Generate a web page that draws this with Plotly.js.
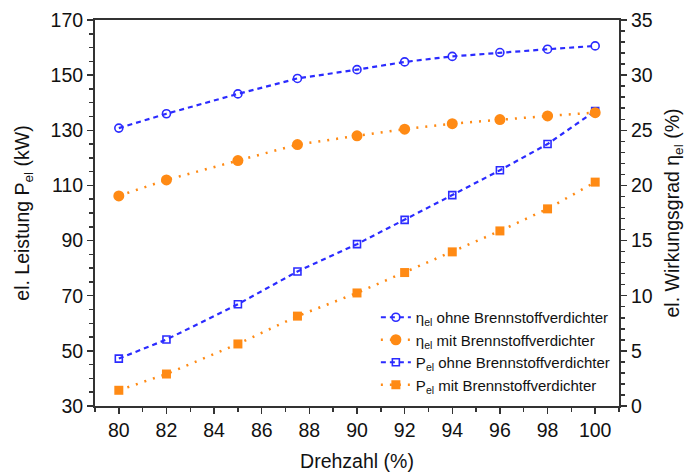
<!DOCTYPE html>
<html><head><meta charset="utf-8">
<script src="https://cdn.plot.ly/plotly-3.0.1.min.js"></script>
<style>body{margin:0;background:#fff}#c{width:686px;height:475px}</style>
</head><body><div id="c"></div>
<script>
const drehzahl = [80, 82, 85, 87.5, 90, 92, 94, 96, 98, 100];
const etaOhne = [25.2, 26.5, 28.3, 29.7, 30.5, 31.2, 31.7, 32.05, 32.35, 32.65];
const etaMit = [19.05, 20.5, 22.25, 23.7, 24.5, 25.1, 25.6, 25.97, 26.3, 26.6];
const pOhne = [47.2, 54.1, 66.9, 78.8, 88.7, 97.5, 106.5, 115.5, 125, 137];
const pMit = [35.7, 41.6, 52.5, 62.6, 71, 78.4, 85.9, 93.5, 101.5, 111.2];
const names = ['η<sub>el</sub> ohne Brennstoffverdichter','η<sub>el</sub> mit Brennstoffverdichter','P<sub>el</sub> ohne Brennstoffverdichter','P<sub>el</sub> mit Brennstoffverdichter'];
const xTicks = [80, 82, 84, 86, 88, 90, 92, 94, 96, 98, 100];
const yTicks = [30, 50, 70, 90, 110, 130, 150, 170];
const y2Ticks = [0, 5, 10, 15, 20, 25, 30, 35];

const blue = '#2b2bff', orange = '#ff8a14';
const dashB = '5px,4px', dotO = '2px,7px';
const traces = [
  {x: drehzahl, y: etaOhne, yaxis: 'y2', name: names[0], mode: 'lines+markers',
   line: {color: blue, dash: dashB, width: 2.2}, marker: {symbol: 'circle-open', size: 8, color: blue, line: {width: 1.6, color: blue}}},
  {x: drehzahl, y: etaMit, yaxis: 'y2', name: names[1], mode: 'lines+markers',
   line: {color: orange, dash: dotO, width: 2.5}, marker: {symbol: 'circle', size: 11, color: orange}},
  {x: drehzahl, y: pOhne, name: names[2], mode: 'lines+markers',
   line: {color: blue, dash: dashB, width: 2.2}, marker: {symbol: 'square-open', size: 7, color: blue, line: {width: 1.6, color: blue}}},
  {x: drehzahl, y: pMit, name: names[3], mode: 'lines+markers',
   line: {color: orange, dash: dotO, width: 2.5}, marker: {symbol: 'square', size: 9, color: orange}}
];
const axcol = '#333';
const tf = {family: 'Liberation Sans, Arial, sans-serif', size: 19.5, color: '#111'};
const layout = {
  width: 686, height: 475,
  margin: {l: 95, r: 67, t: 20, b: 69},
  paper_bgcolor: '#fff', plot_bgcolor: '#fff',
  font: {family: 'Liberation Sans, Arial, sans-serif', color: '#111'},
  showlegend: true,
  legend: {x: 0.536, y: 0.272, xanchor: 'left', yanchor: 'top', bgcolor: 'rgba(0,0,0,0)',
           font: {size: 15, color: '#111'}, tracegroupgap: 0, itemwidth: 30},
  xaxis: {range: [79, 101], tickvals: xTicks, ticks: 'outside', ticklen: 6, tickwidth: 1.5,
          tickcolor: axcol, showline: true, linecolor: axcol, linewidth: 2, mirror: true, showgrid: false, zeroline: false,
          tickfont: tf, minor: {dtick: 1, ticks: 'outside', ticklen: 4, tickcolor: axcol, tickwidth: 1.5},
          title: {text: 'Drehzahl (%)', font: tf, standoff: 14}},
  yaxis: {range: [30, 170], tickvals: yTicks, ticks: 'outside', ticklen: 6, tickwidth: 1.5, tickcolor: axcol,
          showline: true, linecolor: axcol, linewidth: 2, showgrid: false, zeroline: false, tickfont: tf,
          minor: {dtick: 5, tick0: 30, ticks: 'outside', ticklen: 4, tickcolor: axcol, tickwidth: 1.5},
          title: {text: 'el. Leistung P<sub>el</sub> (kW)', font: tf, standoff: 16}},
  yaxis2: {overlaying: 'y', side: 'right', range: [0, 35], tickvals: y2Ticks, ticks: 'outside', ticklen: 6, tickwidth: 1.5, tickcolor: axcol,
          showline: true, linecolor: axcol, linewidth: 2, showgrid: false, zeroline: false, tickfont: tf,
          minor: {dtick: 1, ticks: 'outside', ticklen: 4, tickcolor: axcol, tickwidth: 1.5},
          title: {text: 'el. Wirkungsgrad η<sub>el</sub> (%)', font: tf, standoff: 20}}
};
Plotly.newPlot('c', traces, layout, {displayModeBar: false, staticPlot: true});
</script></body></html>
